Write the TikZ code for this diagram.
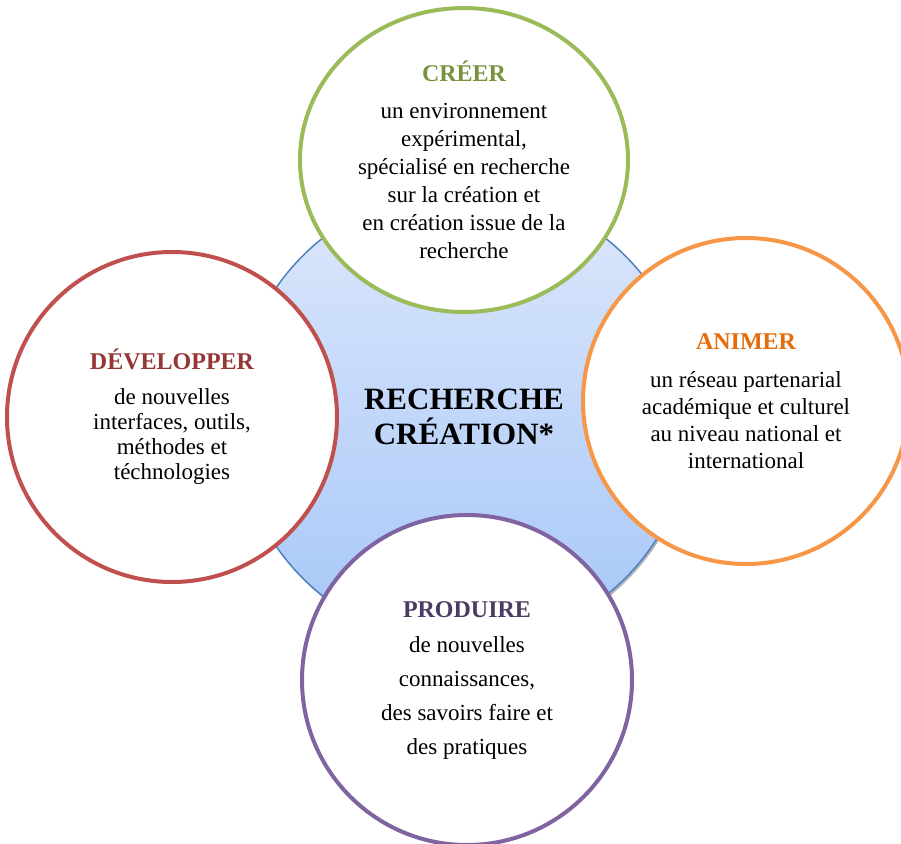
\documentclass[tikz,border=0pt]{standalone}
\usepackage{fontspec}
\setmainfont{Liberation Serif}
\usepackage{tikz}
\usetikzlibrary{shapes.geometric}
\usetikzlibrary{shadows}

\definecolor{ringgreen}{HTML}{9BBB59}
\definecolor{titlegreen}{HTML}{77933C}
\definecolor{ringred}{HTML}{C0504D}
\definecolor{titlered}{HTML}{953735}
\definecolor{ringorange}{HTML}{F79646}
\definecolor{titleorange}{HTML}{E46C0A}
\definecolor{ringpurple}{HTML}{8064A2}
\definecolor{titlepurple}{HTML}{4A3B63}
\definecolor{hubtop}{HTML}{DDE8FB}
\definecolor{hubbottom}{HTML}{A6C6F8}
\definecolor{hubline}{HTML}{4F81BD}

\newcommand{\axetitle}[2]{\textcolor{#1}{\fontsize{24}{28}\selectfont\bfseries #2}}

\tikzset{
  axe/.style={circle, line width=4pt, fill=white, align=center, inner sep=0pt,
    font=\fontsize{23}{28}\selectfont},
  hub/.style={circle, draw=hubline, line width=1.5pt, minimum size=456pt,
    top color=hubtop, bottom color=hubbottom, align=center,
    font=\fontsize{31}{35}\selectfont\bfseries,
    drop shadow={shadow xshift=1.5pt, shadow yshift=-2.5pt, opacity=0.3, fill=black}}
}

\begin{document}
\begin{tikzpicture}[x=1pt,y=-1pt]
  \useasboundingbox (0,0) rectangle (901,843);
  \clip (0,0) rectangle (901,843);

  % Central disc
  \node[hub] (centre) at (464,417) {RECHERCHE\\CRÉATION*};

  % Top: create
  \node[axe, ellipse, draw=ringgreen, minimum width=328pt, minimum height=304pt]
    (creer) at (464,160)
    {\axetitle{titlegreen}{CRÉER}\\[9pt]
     un environnement\\ expérimental,\\ spécialisé en recherche\\
     sur la création et\\ en création issue de la\\ recherche};

  % Left: develop
  \node[axe, draw=ringred, minimum size=330pt, font=\fontsize{23}{25}\selectfont]
    (developper) at (172,417)
    {\axetitle{titlered}{DÉVELOPPER}\\[10pt]
     de nouvelles\\ interfaces, outils,\\ méthodes et\\ téchnologies};

  % Right: animate
  \node[axe, draw=ringorange, minimum size=326pt, font=\fontsize{23}{27}\selectfont]
    (animer) at (746,401)
    {\axetitle{titleorange}{ANIMER}\\[11pt]
     un réseau partenarial\\ académique et culturel\\ au niveau national et\\ international};

  % Bottom: produce
  \node[axe, draw=ringpurple, minimum size=330pt, font=\fontsize{23}{34}\selectfont]
    (produire) at (467,680)
    {\axetitle{titlepurple}{PRODUIRE}\\[1pt]
     de nouvelles\\ connaissances,\\ des savoirs faire et\\ des pratiques};
\end{tikzpicture}
\end{document}
